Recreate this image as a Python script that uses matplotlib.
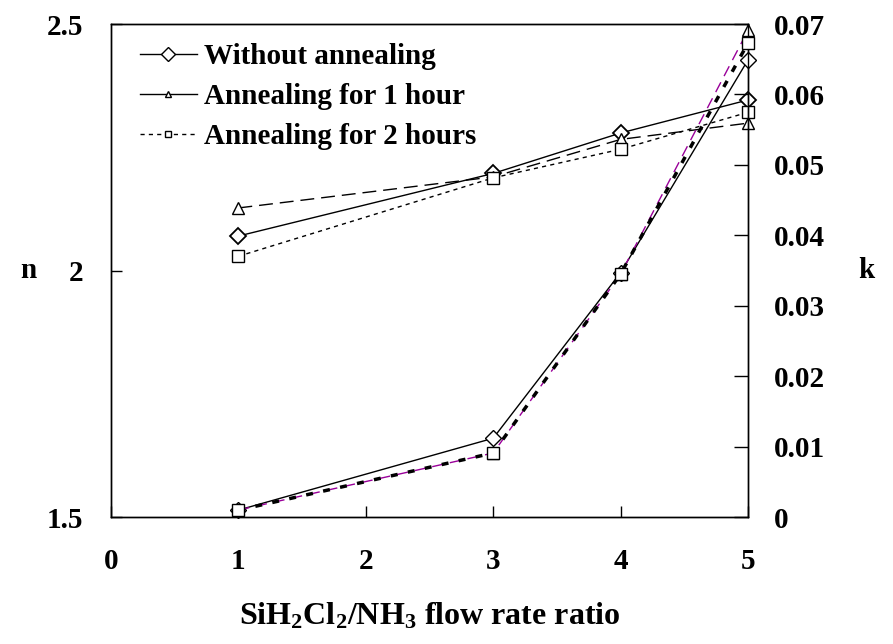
import matplotlib.pyplot as plt
from matplotlib.lines import Line2D

# Flow rate ratio positions
ratio = [1, 3, 4, 5]

# Refractive index n (left axis)
n_without = [2.07, 2.197, 2.279, 2.346]
n_1hour = [2.127, 2.19, 2.266, 2.299]
n_2hours = [2.029, 2.188, 2.246, 2.321]

# Extinction coefficient k (right axis)
k_without = [0.001, 0.0112, 0.0347, 0.0649]
k_1hour = [0.001, 0.0091, 0.0345, 0.0691]
k_2hours = [0.001, 0.0091, 0.0345, 0.0673]

labels = ["Without annealing", "Annealing for 1 hour", "Annealing for 2 hours"]

plt.rcParams['font.family'] = ['Liberation Serif', 'DejaVu Serif']
plt.rcParams['font.weight'] = 'bold'
plt.rcParams['mathtext.fontset'] = 'custom'
plt.rcParams['mathtext.rm'] = 'Liberation Serif:bold'
plt.rcParams['mathtext.it'] = 'Liberation Serif:bold'
plt.rcParams['mathtext.bf'] = 'Liberation Serif:bold'

fig = plt.figure(figsize=(8.93, 6.44), dpi=100)
ax = fig.add_axes([0.1243, 0.197, 0.7133, 0.7657])
ax2 = ax.twinx()

fs = 21

# n curves
ax.plot(ratio, n_without, color='black', lw=1.0, marker='D', ms=8,
        mfc='white', mec='black', mew=1.3, clip_on=False)
ax.plot(ratio, n_1hour, color='black', lw=1.0, ls=(0, (10, 5)), marker='^', ms=9,
        mfc='white', mec='black', mew=1.0, clip_on=False)
ax.plot(ratio, n_2hours, color='black', lw=1.0, ls=(0, (3, 3)), marker='s', ms=9,
        mfc='white', mec='black', mew=1.0, clip_on=False)

# k curves
ax2.plot(ratio, k_without, color='black', lw=1.0, marker='D', ms=8,
         mfc='white', mec='black', mew=1.0, zorder=2, clip_on=False)
ax2.plot(ratio, k_1hour, color='#990099', lw=1.0, ls=(0, (8, 5)), marker='^', ms=9,
         mfc='white', mec='black', mew=1.0, zorder=2, clip_on=False)
ax2.plot(ratio, k_2hours, color='black', lw=2.5, ls=(0, (2, 3)), marker='s', ms=9,
         mfc='white', mec='black', mew=1.0, zorder=3, clip_on=False)

ax.set_xlim(0, 5)
ax.set_ylim(1.5, 2.5)
ax2.set_ylim(0, 0.07)

ax.set_xticks([0, 1, 2, 3, 4, 5])
ax.set_yticks([1.5, 2, 2.5])
ax.set_yticklabels(['1.5', '2', '2.5'])
ax2.set_yticks([0, 0.01, 0.02, 0.03, 0.04, 0.05, 0.06, 0.07])
ax2.set_yticklabels(['0', '0.01', '0.02', '0.03', '0.04', '0.05', '0.06', '0.07'])

ax.tick_params(axis='x', direction='in', length=8, width=1, pad=22, labelsize=fs)
ax.tick_params(axis='y', direction='in', length=8, width=1, pad=20, labelsize=fs)
ax2.tick_params(axis='y', direction='in', length=10, width=1, pad=19, labelsize=fs)

for a in (ax, ax2):
    for sp in a.spines.values():
        sp.set_linewidth(1.0)

ax.set_xlabel(r'SiH$_2$Cl$_2$/NH$_3$ flow rate ratio', fontsize=23, fontweight='bold', labelpad=19)
fig.text(0.032, 0.58, 'n', fontsize=fs, fontweight='bold', ha='center', va='center')
fig.text(0.97, 0.58, 'k', fontsize=fs, fontweight='bold', ha='center', va='center')

# legend with smaller markers
handles = [
    Line2D([], [], color='black', lw=1.0, marker='D', ms=7, mfc='white', mec='black'),
    Line2D([], [], color='black', lw=1.0, marker='^', ms=5, mfc='white', mec='black'),
    Line2D([], [], color='black', lw=1.0, ls=(0, (3, 3)), marker='s', ms=5, mfc='white', mec='black'),
]
ax.legend(handles, labels, loc='upper left', bbox_to_anchor=(0.045, 0.962), frameon=False,
          fontsize=fs, handlelength=1.95, handletextpad=0.27, labelspacing=0.45,
          borderaxespad=0, borderpad=0)

fig.savefig('out.png', dpi=100)
